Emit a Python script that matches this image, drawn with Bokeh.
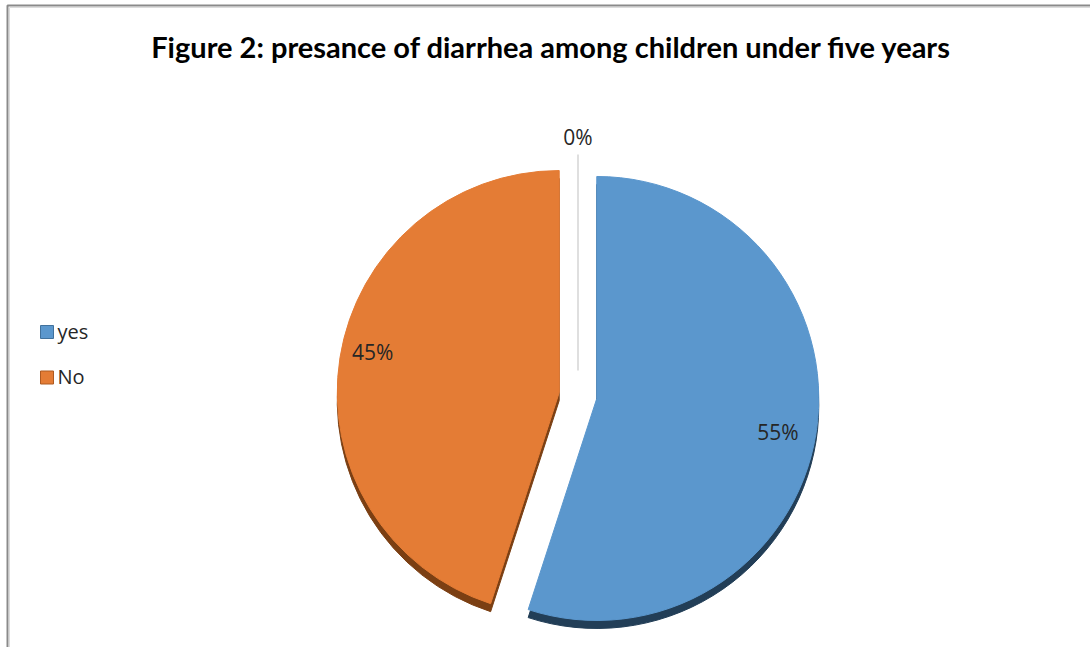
import math
from bokeh.plotting import figure
from bokeh.models import Range1d
from bokeh.core.properties import value
from bokeh.embed import file_html
from bokeh.resources import INLINE

# ---- data ----
title = "Figure 2: presance of diarrhea among children under five years"
categories = ["yes", "No", ""]
percents = [55, 45, 0]
labels = ["55%", "45%", "0%"]
colors = ["#5b97cd", "#e47c35", "#d0d0d0"]
dark_colors = ["#223e57", "#7b3f13", "#d0d0d0"]
edge_colors = ["#41719c", "#ae5a21", "#d0d0d0"]
label_radius = [0.83, 0.86, 1.08]
label_shift_deg = [-1.6, -3.4, 0.0]

W, H = 1090, 647
p = figure(width=W, height=H, x_range=Range1d(0, W), y_range=Range1d(0, H),
           output_backend="svg", toolbar_location=None,
           x_axis_location=None, y_axis_location=None, min_border=0,
           outline_line_color=None, background_fill_color="white",
           border_fill_color="white")
p.grid.visible = False

# chart border (frame of the chart area)
p.line([7, 7, W + 5], [-5, H - 5, H - 5], line_color="#8a8a8a", line_width=2)
p.line([9, 9, W + 5], [-5, H - 7, H - 7], line_color="#dcdcdc", line_width=1)

# pie geometry
cx, cy = 577.5, H - 395
R = 222
EXP = 19
DEPTH = 8

start = math.pi / 2
sl = dict(x=[], y=[], s=[], e=[], c=[], d=[])
zero = dict(x0=[], y0=[], x1=[], y1=[])
lab = dict(x=[], y=[], t=[])
for pct, col, dk, lbl, lr, ls in zip(percents, colors, dark_colors, labels,
                                     label_radius, label_shift_deg):
    sweep = 2 * math.pi * pct / 100.0
    a_end = start
    a_start = start - sweep
    mid = (a_start + a_end) / 2
    ox = cx + EXP * math.cos(mid)
    oy = cy + EXP * math.sin(mid)
    if pct > 0:
        sl["x"].append(ox); sl["y"].append(oy)
        sl["s"].append(a_start); sl["e"].append(a_end)
        sl["c"].append(col); sl["d"].append(dk)
    else:
        zero["x0"].append(ox); zero["y0"].append(oy + 6)
        zero["x1"].append(ox + R * math.cos(mid)); zero["y1"].append(oy + R * math.sin(mid))
    la = mid + math.radians(ls)
    lab["x"].append(ox + lr * R * math.cos(la))
    lab["y"].append(oy + lr * R * math.sin(la))
    lab["t"].append(lbl)
    start = a_start

# 3D extrusion (darker copy shifted down)
p.wedge(x=sl["x"], y=[v - DEPTH for v in sl["y"]], radius=R,
        start_angle=sl["s"], end_angle=sl["e"], direction="anticlock",
        fill_color=sl["d"], line_color=sl["d"], line_width=1)
# top faces
p.wedge(x=sl["x"], y=sl["y"], radius=R, start_angle=sl["s"], end_angle=sl["e"],
        direction="anticlock", fill_color=sl["c"], line_color=sl["c"], line_width=1)
# zero-value slice
p.segment(x0=zero["x0"], y0=zero["y0"], x1=zero["x1"], y1=zero["y1"],
          line_color="#d4d4d4", line_width=1.5)

# data labels
p.text(x=lab["x"], y=lab["y"], text=lab["t"], text_font=value("Open Sans"),
       text_font_size="21px", text_color="#262626",
       text_align="center", text_baseline="middle")

# title
p.text(x=[551], y=[H - 46], text=[title], text_font=value("Lato"),
       text_font_style="bold", text_font_size="29px", text_color="#000000",
       text_align="center", text_baseline="middle")

# legend
leg_y = [H - 331.5, H - 377]
p.scatter(x=[46.5, 46.5], y=leg_y, marker="square", size=13,
          fill_color=colors[:2], line_color=edge_colors[:2], line_width=1)
p.text(x=[57, 57], y=[v + 1 for v in leg_y], text=categories[:2],
       text_font=value("Open Sans"), text_font_size="20px", text_color="#262626",
       text_align="left", text_baseline="middle")

open("out.html", "w").write(file_html(p, INLINE))
